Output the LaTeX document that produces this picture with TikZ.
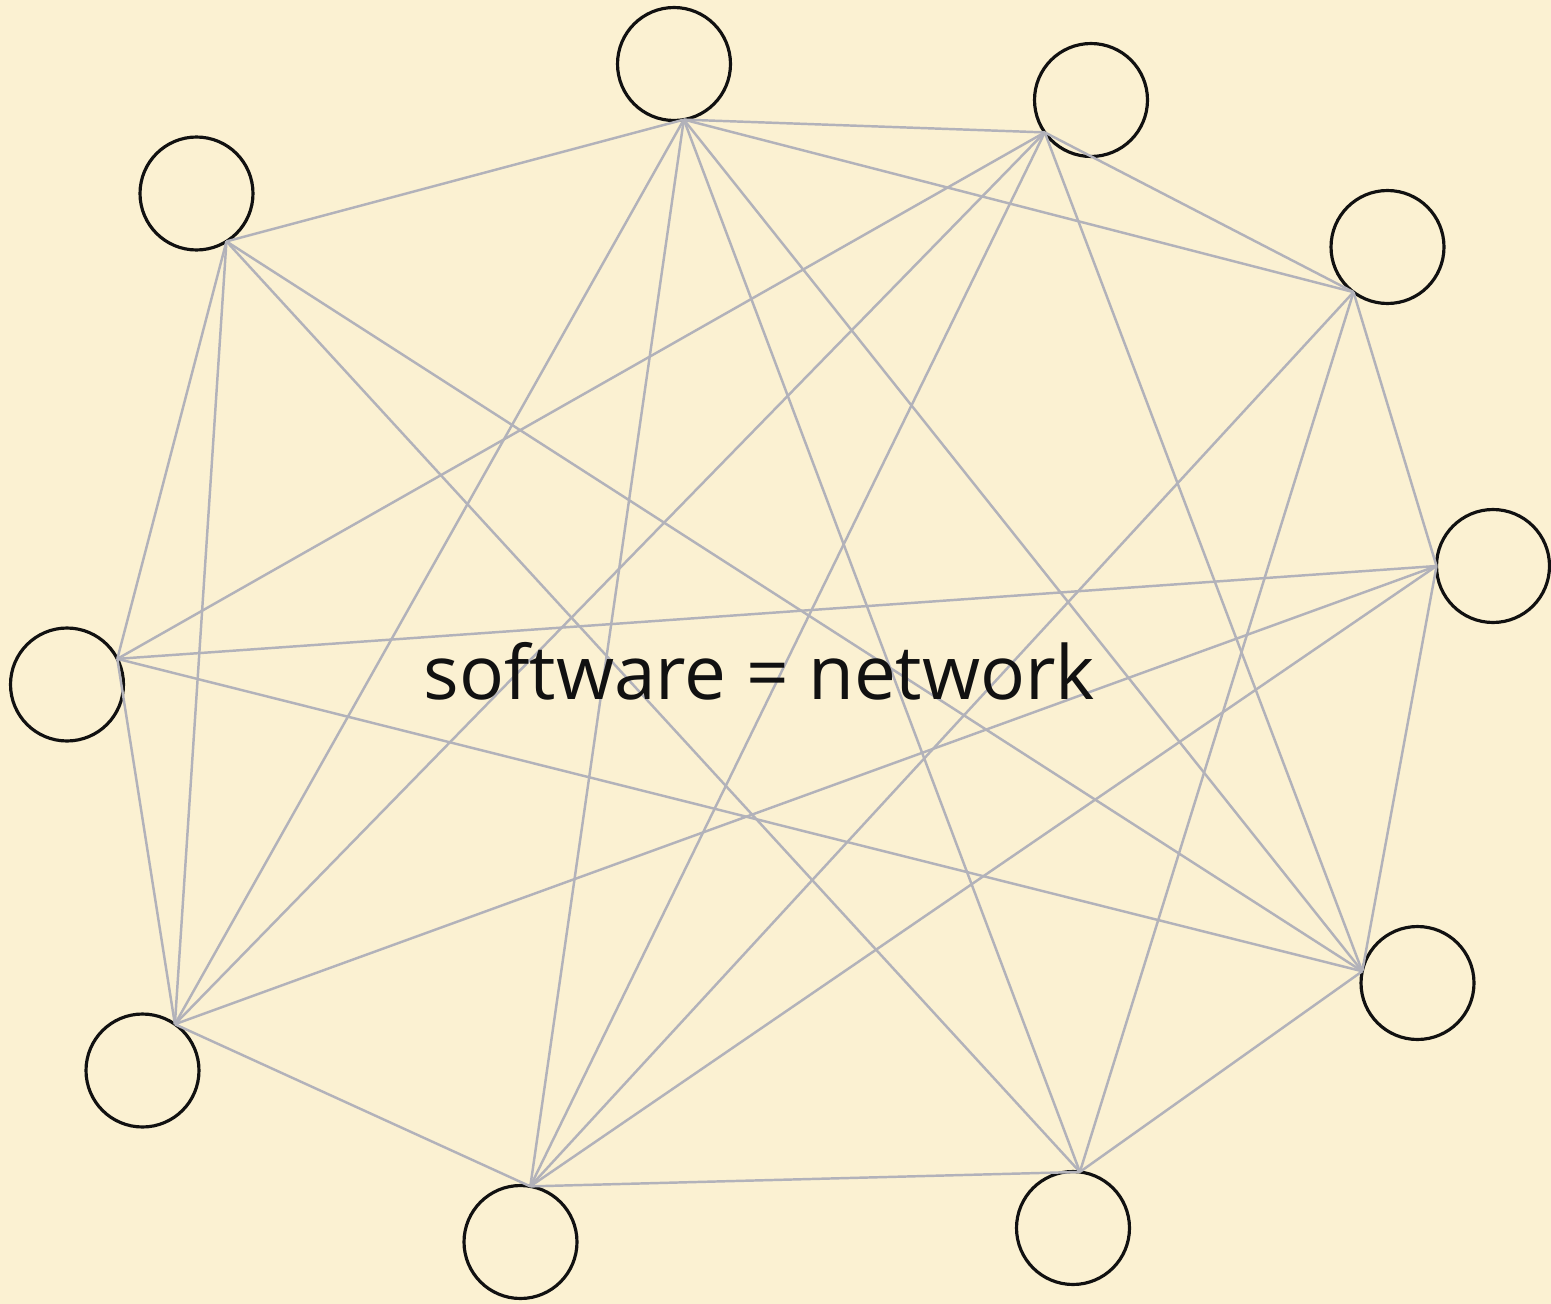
\documentclass[tikz,border=0pt]{standalone}
\usepackage{fontspec}
\setmainfont{Open Sans}
\definecolor{bg}{RGB}{251,241,210}
\definecolor{edgegray}{RGB}{178,178,186}
\definecolor{ink}{RGB}{17,17,17}
\tikzset{
  vertex/.style={circle, draw=ink, line width=1.8pt, minimum size=2.26cm, inner sep=0pt, outer sep=0pt},
  edgeline/.style={draw=edgegray, line width=1.4pt},
  title/.style={text=ink, font=\fontsize{42.5}{50}\selectfont, inner sep=0pt, anchor=base}
}
\begin{document}
\begin{tikzpicture}[x=0.02cm,y=-0.02cm]
\fill[bg] (0,0) rectangle (1551,1304);
\useasboundingbox (0,0) rectangle (1551,1304);
% circles
\node[vertex] (n1) at (196.5,193.5) {};
\node[vertex] (n2) at (674,64) {};
\node[vertex] (n3) at (1091,100) {};
\node[vertex] (n4) at (1387.5,247) {};
\node[vertex] (n5) at (1493,566) {};
\node[vertex] (n6) at (67,684.5) {};
\node[vertex] (n7) at (1417.5,983) {};
\node[vertex] (n8) at (142.5,1070.5) {};
\node[vertex] (n9) at (520.5,1242) {};
\node[vertex] (n10) at (1073,1228) {};
% connection points on the circles
\coordinate (p1) at (n1.-58);
\coordinate (p2) at (n2.-80);
\coordinate (p3) at (n3.-145);
\coordinate (p4) at (n4.-127);
\coordinate (p5) at (n5.180);
\coordinate (p6) at (n6.27);
\coordinate (p7) at (n7.168);
\coordinate (p8) at (n8.55);
\coordinate (p9) at (n9.80);
\coordinate (p10) at (n10.83);
% edges
\draw[edgeline] (p1) -- (p2);
\draw[edgeline] (p1) -- (p6);
\draw[edgeline] (p1) -- (p8);
\draw[edgeline] (p1) -- (p10);
\draw[edgeline] (p1) -- (p7);
\draw[edgeline] (p2) -- (p3);
\draw[edgeline] (p2) -- (p4);
\draw[edgeline] (p2) -- (p8);
\draw[edgeline] (p2) -- (p9);
\draw[edgeline] (p2) -- (p10);
\draw[edgeline] (p2) -- (p7);
\draw[edgeline] (p3) -- (p4);
\draw[edgeline] (p3) -- (p6);
\draw[edgeline] (p3) -- (p8);
\draw[edgeline] (p3) -- (p9);
\draw[edgeline] (p3) -- (p7);
\draw[edgeline] (p4) -- (p9);
\draw[edgeline] (p4) -- (p10);
\draw[edgeline] (p4) -- (p5);
\draw[edgeline] (p5) -- (p6);
\draw[edgeline] (p5) -- (p8);
\draw[edgeline] (p5) -- (p9);
\draw[edgeline] (p5) -- (p7);
\draw[edgeline] (p6) -- (p8);
\draw[edgeline] (p6) -- (p7);
\draw[edgeline] (p7) -- (p10);
\draw[edgeline] (p8) -- (p9);
\draw[edgeline] (p9) -- (p10);
% label
\node[title] (lbl) at (759.5,699) {software = network};
\end{tikzpicture}
\end{document}
